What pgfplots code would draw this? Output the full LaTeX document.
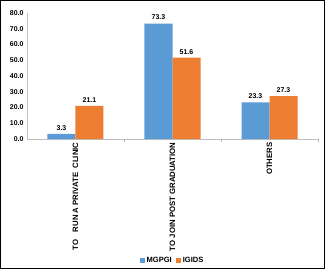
\documentclass[border=0pt]{standalone}
\usepackage{pgfplots}
\pgfplotsset{compat=1.18}
\usepackage{fontspec}
\setmainfont{Liberation Sans}
\definecolor{cblue}{RGB}{91,155,213}
\definecolor{corange}{RGB}{237,125,49}
\begin{document}
\begin{tikzpicture}[x=1bp,y=1bp]
\begin{axis}[
  at={(0,0)}, anchor=south west,
  scale only axis,
  width=291bp, height=126bp,
  xmin=-0.5, xmax=2.5,
  ymin=0, ymax=80,
  ytick={0,10,...,80},
  yticklabel style={font=\fontsize{7}{7}\selectfont\bfseries, /pgf/number format/.cd, fixed, fixed zerofill, precision=1},
  /pgf/number format/assume math mode=true,
  xtick={0,1,2},
  xticklabels={TO\quad RUN A PRIVATE\ \ CLINIC, TO JOIN POST GRADUATION, OTHERS},
  xticklabel style={rotate=90, anchor=east, font=\fontsize{7.8}{9}\selectfont\bfseries},
  extra x ticks={0.5,1.5,2.5},
  extra x tick labels={},
  extra x tick style={major tick length=3bp, tick style={gray!60}, xtick align=outside},
  major tick length=0pt,
  ytick style={draw=none},
  axis x line*=bottom,
  axis y line*=left,
  axis line style={gray!50, line width=0.5bp},
  x axis line style={-},
  y axis line style={-},
  ybar=0pt,
  bar width=28bp,
  nodes near coords,
  nodes near coords style={font=\fontsize{7}{7}\selectfont\bfseries, /pgf/number format/.cd, fixed, fixed zerofill, precision=1, assume math mode=true},
  legend style={at={(0.5,0)}, anchor=south, yshift=-129bp, draw=none, fill=none,
    legend columns=2, font=\fontsize{7.6}{8}\selectfont\bfseries,
    /tikz/every even column/.append style={column sep=2bp}},
  legend image code/.code={\fill[#1] (0bp,-2.5bp) rectangle (5bp,2.5bp);},
  legend cell align=left,
]
\addplot[fill=cblue, draw=none] coordinates {(0,3.3) (1,73.3) (2,23.3)};
\addplot[fill=corange, draw=none] coordinates {(0,21.1) (1,51.6) (2,27.3)};
\legend{MGPGI, IGIDS}
\end{axis}
\pgfresetboundingbox
\useasboundingbox (-27bp,-130bp) rectangle (298bp,139bp);
\draw[line width=0.8bp, black] (-26.5bp,-129.5bp) rectangle (297.5bp,138.5bp);
\end{tikzpicture}
\end{document}
